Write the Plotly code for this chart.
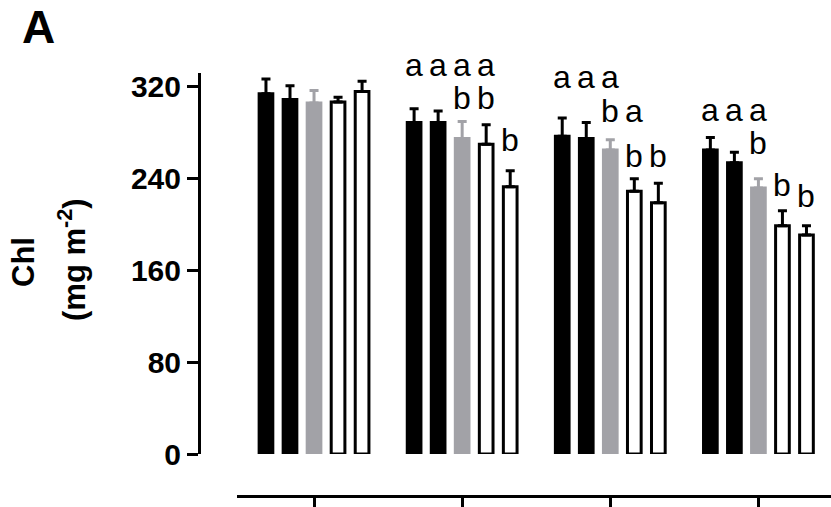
import plotly.graph_objects as go

# Chlorophyll content per sampling time, five treatments each
groups = [0, 1, 2, 3]
series_names = ["T1", "T2", "T3", "T4", "T5"]
t1 = [314, 289, 277, 265]
t2 = [309, 289, 275, 254]
t3 = [306, 275, 265, 232]
t4 = [307, 270, 229, 199]
t5 = [316, 233, 219, 191]
t1_err = [13, 12, 16, 11]
t2_err = [12, 10, 14, 9]
t3_err = [11, 15, 9, 8]
t4_err = [4, 17, 11, 13]
t5_err = [9, 14, 17, 8]

# significance letters: (group, bar index, letter)
letters = [
    (1, 0, "a"), (1, 1, "a"), (1, 2, "a"), (1, 2, "b"), (1, 3, "a"), (1, 3, "b"), (1, 4, "b"),
    (2, 0, "a"), (2, 1, "a"), (2, 2, "a"), (2, 2, "b"), (2, 3, "a"), (2, 3, "b"), (2, 4, "b"),
    (3, 0, "a"), (3, 1, "a"), (3, 2, "a"), (3, 2, "b"), (3, 3, "b"), (3, 4, "b"),
]
# baseline height (axis units) for each letter above
letter_heights = [
    329, 329, 329, 300, 329, 300, 263.5,
    318.5, 318.5, 318.5, 289, 289, 249.6, 249.6,
    289.7, 289.7, 289.7, 261, 224.3, 214.7,
]

y_ticks = [0, 80, 160, 240, 320]

W, H = 831, 507
BARGAP = 0.189
BARGROUPGAP = 0.43

means = [t1, t2, t3, t4, t5]
errs = [t1_err, t2_err, t3_err, t4_err, t5_err]
fills = ["#000000", "#000000", "#a2a2a7", "#ffffff", "#ffffff"]
edges = ["#000000", "#000000", "#a2a2a7", "#000000", "#000000"]
err_cols = ["#000000", "#000000", "#a2a2a7", "#000000", "#000000"]

fig = go.Figure()
for name, m, e, fc, ec, erc in zip(series_names, means, errs, fills, edges, err_cols):
    fig.add_trace(go.Bar(
        x=groups, y=m, name=name,
        marker=dict(color=fc, line=dict(color=ec, width=3)),
        error_y=dict(type="data", array=e, arrayminus=[0] * len(e), symmetric=False,
                     color=erc, thickness=3, width=4.5),
    ))

FONT = "Liberation Sans, Arial, sans-serif"
slot = (1 - BARGAP) / len(series_names)
annotations = []
for (g, i, txt), h in zip(letters, letter_heights):
    annotations.append(dict(
        x=g + (i - 2) * slot, y=h, xref="x", yref="y", text=txt, showarrow=False,
        xanchor="center", yanchor="bottom", yshift=-8,
        font=dict(family=FONT, size=32, color="#000"),
    ))

annotations += [
    dict(x=20 / W, y=1, xref="paper", yref="paper", text="<b>A</b>",
         showarrow=False, xanchor="left", yanchor="top", yshift=1,
         font=dict(family=FONT, size=46, color="#000")),
    dict(x=23 / W, y=1 - 262 / H, xref="paper", yref="paper", text="<b>Chl</b>",
         showarrow=False, xanchor="center", yanchor="middle", textangle=-90,
         font=dict(family=FONT, size=31, color="#000")),
    dict(x=72 / W, y=1 - 260 / H, xref="paper", yref="paper",
         text="<b>(mg m<sup>-2</sup>)</b>",
         showarrow=False, xanchor="center", yanchor="middle", textangle=-90,
         font=dict(family=FONT, size=31, color="#000")),
]

fig.update_layout(
    width=W, height=H,
    margin=dict(l=0, r=0, t=0, b=0, autoexpand=False),
    paper_bgcolor="white", plot_bgcolor="white",
    barmode="group", bargap=BARGAP, bargroupgap=BARGROUPGAP,
    showlegend=False,
    annotations=annotations,
    xaxis=dict(
        domain=[237 / W, 1], range=[-0.52, 3.49], anchor="free", position=1 - 496 / H,
        showline=True, linecolor="#000", linewidth=3, automargin=False,
        ticks="outside", ticklen=12, tickwidth=3, tickcolor="#000",
        tickvals=groups, showticklabels=False,
        showgrid=False, zeroline=False,
    ),
    yaxis=dict(
        domain=[1 - 454 / H, 1 - 73 / H], range=[0, 332.2], anchor="free", position=199 / W,
        showline=True, linecolor="#000", linewidth=3, automargin=False,
        ticks="outside", ticklen=11, tickwidth=3, tickcolor="#000",
        tickvals=y_ticks, tickfont=dict(family=FONT, size=30, color="#000", weight="bold"),
        showgrid=False, zeroline=False,
    ),
)

fig.write_html("out.html")
